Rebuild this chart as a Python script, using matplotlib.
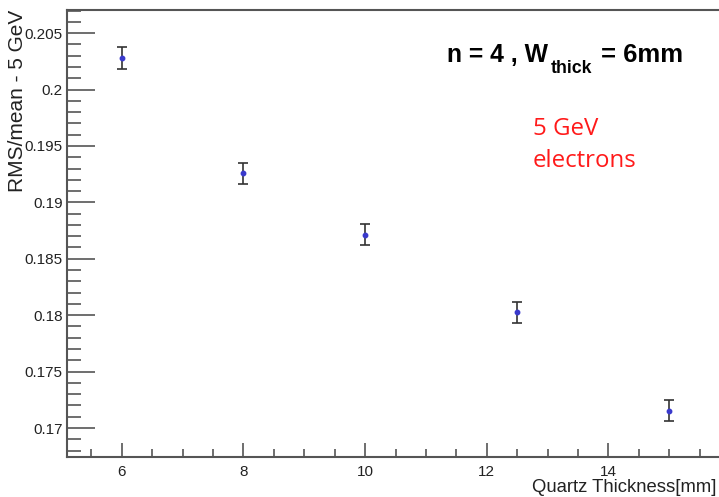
import matplotlib
matplotlib.use("Agg")
import matplotlib.pyplot as plt
from matplotlib.ticker import MultipleLocator

# Resolution vs. quartz thickness
thickness = [6, 8, 10, 12.5, 15]
rms_over_mean = [0.2028, 0.19257, 0.18715, 0.18025, 0.17155]
rms_err = [0.00095, 0.00095, 0.00095, 0.00095, 0.00095]

x_label = "Quartz Thickness[mm]"
y_label = "RMS/mean - 5 GeV"
x_ticks = [6, 8, 10, 12, 14]
y_ticks = [0.17, 0.175, 0.18, 0.185, 0.19, 0.195, 0.2, 0.205]
y_tick_labels = ["0.17", "0.175", "0.18", "0.185", "0.19", "0.195", "0.2", "0.205"]

plt.rcParams["font.family"] = ["Liberation Sans", "DejaVu Sans"]

W, H = 719, 497
fig = plt.figure(figsize=(W / 100, H / 100), dpi=100)
ax = fig.add_axes([67 / W, 1 - 457 / H, 657 / W, 447 / H])

axis_col = "#555555"
ax.errorbar(thickness, rms_over_mean, yerr=rms_err, fmt="o", ms=3.2,
            mfc="#3a3acc", mec="#3a3acc", ecolor="#333333", elinewidth=1.2,
            capsize=3.5, capthick=1.2, zorder=3)

ax.set_xlim(5.1, 15.9)
ax.set_ylim(0.16743, 0.20705)

ax.set_xticks(x_ticks)
ax.set_xticklabels([str(t) for t in x_ticks])
ax.xaxis.set_minor_locator(MultipleLocator(0.5))
ax.set_yticks(y_ticks)
ax.set_yticklabels(y_tick_labels)
ax.yaxis.set_minor_locator(MultipleLocator(0.001))

ax.tick_params(axis="x", which="major", direction="in", length=10, width=1.2,
               color=axis_col, labelsize=11, pad=6, labelcolor="#222222")
ax.tick_params(axis="x", which="minor", direction="in", length=6, width=1.2,
               color=axis_col)
ax.tick_params(axis="y", which="major", direction="in", length=20, width=1.2,
               color=axis_col, labelsize=11, pad=3, labelcolor="#222222")
ax.tick_params(axis="y", which="minor", direction="in", length=10, width=1.2,
               color=axis_col)

for side in ("left", "bottom", "top"):
    ax.spines[side].set_color(axis_col)
    ax.spines[side].set_linewidth(1.5)
ax.spines["right"].set_visible(False)

fig.text(717 / W, 1 - 487 / H, x_label, ha="right", va="center",
         fontsize=13.3, color="#222222")
fig.text(18 / W, 1 - 10 / H, y_label, rotation=90, ha="center", va="top",
         fontsize=15, color="#222222")

# Bold header with a subscript, assembled from pieces
renderer = fig.canvas.get_renderer()
t1 = fig.text(447 / W, 1 - 62 / H, "n = 4 , W", ha="left", va="baseline",
              fontsize=17.8, fontweight="bold", color="black")
x1 = t1.get_window_extent(renderer).x1 + 3
fig.text(x1 / W, 1 - 73 / H, "thick", ha="left", va="baseline",
         fontsize=12.8, fontweight="bold", color="black")
fig.text(683 / W, 1 - 62 / H, "= 6mm", ha="right", va="baseline",
         fontsize=18.5, fontweight="bold", color="black")

red_font = ["Open Sans", "DejaVu Sans"]
fig.text(533 / W, 1 - 135 / H, "5 GeV", ha="left", va="baseline",
         fontsize=17.3, color="#ff1a1a", family=red_font)
fig.text(533 / W, 1 - 167 / H, "electrons", ha="left", va="baseline",
         fontsize=17.3, color="#ff1a1a", family=red_font)

fig.savefig("out.png", dpi=100)
